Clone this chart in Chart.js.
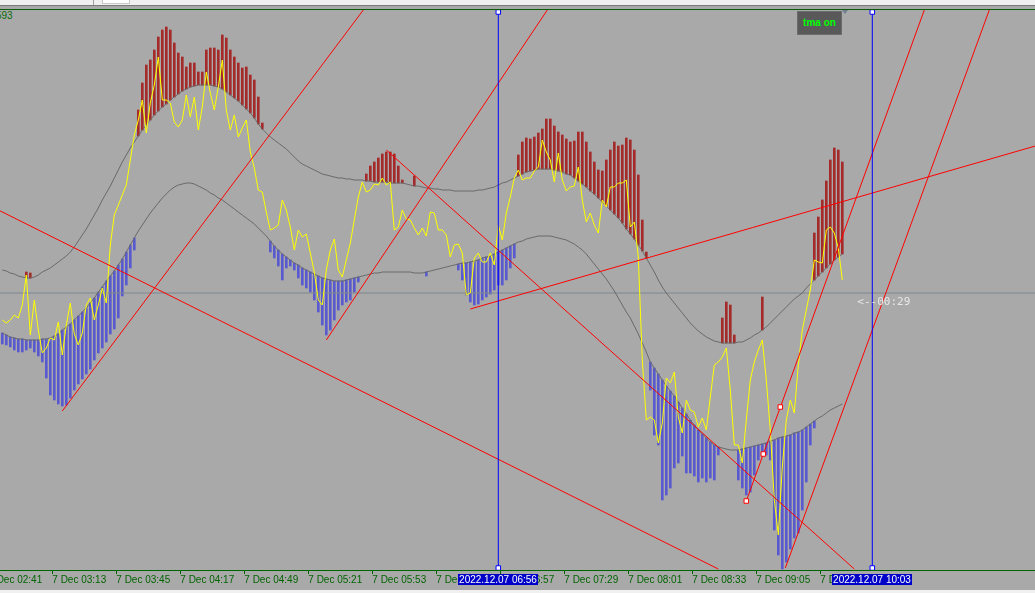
<!DOCTYPE html>
<html>
<head>
<meta charset="utf-8">
<script src="https://cdn.jsdelivr.net/npm/chart.js@4.4.0/dist/chart.umd.min.js"></script>
<style>
  html, body { margin: 0; padding: 0; width: 1035px; height: 593px; overflow: hidden; background: #a9a9a9; position: relative; }
  #chart { position: absolute; left: -12px; top: 10px; }
  .strip { position: absolute; left: 0; width: 1035px; }
  #sym { position: absolute; left: -4px; top: 10px; font: 10px "Liberation Sans", Arial, sans-serif; color: #0a6a0a; }
  #tma { position: absolute; left: 797px; top: 11px; width: 43px; height: 22px; background: #595959; border: 1px solid #6c6c6c;
         color: #00ff00; font: bold 10px "Liberation Sans", Arial, sans-serif; text-align: center; line-height: 22px; }
  #tri { position: absolute; left: 842px; top: 10px; width: 0; height: 0; border-left: 3px solid transparent; border-right: 3px solid transparent; border-top: 4px solid #6f7f8f; }
</style>
</head>
<body>
<div class="strip" style="top:0;height:5px;background:#f0f0f0"></div>
<div class="strip" style="top:5px;height:1px;background:#7a7a7a"></div>
<div class="strip" style="top:9px;height:1px;background:#0b5d0b"></div>
<div style="position:absolute;left:93px;top:0;width:1px;height:5px;background:#a0a0a0"></div>
<div style="position:absolute;left:102px;top:0;width:26px;height:3px;background:#fff;border:1px solid #c8c8c8;border-top:none"></div>
<div id="sym">593</div>
<canvas id="chart" width="1047" height="583"></canvas>
<div id="tma">tma on</div>
<div id="tri"></div>
<div class="strip" style="top:590px;height:3px;background:#f0f0f0"></div>
<script>
const _ = null;

// M1 chart, one sample every 2 minutes starting 02:48 (minutes since midnight)
const firstMinute = 168;
const stepMinutes = 2;

// TMA upper band
const upperBand = [
  330,329,327,326,324,323,322,322,323,325,
  328,330,332,335,338,341,344,348,353,359,
  365,371,378,385,392,400,407,414,422,430,
  438,445,452,458,464,470,475,480,485,489,
  493,496,500,503,506,509,511,513,514,515,
  515,515,515,514,513,511,508,505,502,499,
  495,491,487,482,476,471,467,463,460,457,
  454,451,447,443,439,436,434,432,430,428,
  426,425,424,423,422,422,421,421,420,420,
  420,419,419,418,418,418,418,417,417,417,
  417,416,415,414,414,413,412,412,411,411,
  410,410,410,409,409,409,409,409,409,410,
  410,411,412,413,415,417,418,420,422,424,
  426,428,429,430,431,431,431,431,430,429,
  428,426,425,422,419,416,413,409,406,402,
  398,394,390,386,382,377,371,366,361,355,
  349,342,335,328,320,313,307,302,297,292,
  287,282,277,273,269,266,263,261,259,258,
  257,257,257,257,258,258,260,262,265,267,
  270,273,277,281,285,289,293,297,301,304,
  307,312,316,320,324,328,332,336,340,343,346
];

// TMA lower band
const lowerBand = [
  267,265,263,262,261,261,260,260,260,260,
  261,261,262,264,266,270,273,276,280,284,
  288,292,297,302,308,313,319,324,329,335,
  341,348,355,362,369,375,381,387,392,397,
  402,406,410,413,415,416,417,417,416,414,
  412,410,407,405,402,400,397,394,391,388,
  385,382,379,376,372,368,364,359,354,350,
  346,343,340,337,335,332,330,328,326,324,
  322,321,320,319,319,319,320,321,322,323,
  324,325,326,327,327,328,328,328,328,328,
  328,328,328,327,327,327,328,329,330,331,
  332,333,334,335,336,337,337,338,339,340,
  342,343,344,346,348,350,352,354,356,358,
  359,361,362,363,364,364,364,364,363,362,
  361,360,358,356,353,350,346,341,336,331,
  326,321,315,309,302,295,288,282,274,266,
  257,248,238,232,226,220,214,209,204,198,
  192,186,180,175,170,166,162,158,155,153,
  152,151,150,150,150,151,152,153,154,155,
  156,157,159,160,162,163,164,165,167,168,
  170,173,176,179,182,184,187,190,192,194,196
];

// price (yellow)
const price = [
  280,277,280,285,282,295,325,265,300,270,
  247,252,262,260,278,245,275,297,266,255,
  267,295,302,280,295,312,297,355,385,395,
  405,415,440,465,480,500,467,497,515,543,
  500,500,497,478,473,480,505,483,503,470,
  493,528,507,490,513,540,490,470,485,463,
  472,480,448,432,410,408,388,370,372,375,
  400,390,373,350,370,363,366,347,328,300,
  295,330,350,361,330,323,340,357,380,403,
  418,408,410,416,415,422,415,418,370,373,
  390,381,380,372,365,372,364,388,387,370,
  370,365,343,355,356,347,305,307,342,347,
  338,338,347,335,375,360,387,403,422,430,
  420,422,422,429,433,460,448,440,418,447,
  420,409,413,414,433,400,378,387,375,367,
  400,393,413,413,417,417,420,373,378,343,
  240,180,183,180,157,177,222,217,228,183,
  167,200,190,188,173,182,170,203,235,238,
  243,252,210,155,155,137,180,220,238,250,
  260,220,170,100,65,133,180,200,187,235,
  270,290,310,340,338,337,370,373,367,352,320
];

// highs above the upper band (red histogram)
const aboveBand = [
  _,_,_,_,_,_,328,327,_,_,
  _,_,_,_,_,_,_,_,_,_,
  _,_,_,_,_,_,_,_,_,_,
  _,_,_,_,490,517,535,540,550,563,
  570,573,570,557,547,543,533,537,537,528,
  528,550,552,552,550,565,562,550,543,537,
  532,533,525,520,503,477,_,_,_,_,
  _,_,_,_,_,_,_,_,_,_,
  _,_,_,_,_,_,_,_,_,_,
  _,426,434,438,442,446,448,448,446,434,
  420,_,_,424,_,_,_,_,_,_,
  _,_,_,_,_,_,_,_,_,_,
  _,_,_,_,_,_,_,_,_,445,
  458,462,461,463,467,471,481,481,474,468,
  465,461,458,459,468,468,458,448,438,430,
  429,440,450,458,454,455,462,460,450,425,
  380,348,_,_,_,_,_,_,_,_,
  _,_,_,_,_,_,_,_,_,_,
  282,298,295,265,_,_,_,_,_,_,
  303,_,_,_,_,_,_,_,_,_,
  _,_,_,367,383,400,419,440,452,450,438
];

// lows below the lower band (blue histogram)
const belowBand = [
  256,255,253,250,248,248,250,252,248,244,
  238,222,205,200,196,194,195,202,210,216,
  221,226,231,240,247,252,258,266,271,282,
  304,315,332,350,_,_,_,_,_,_,
  _,_,_,_,_,_,_,_,_,_,
  _,_,_,_,_,_,_,_,_,_,
  _,_,_,_,_,_,_,348,342,334,
  320,332,334,330,322,315,312,308,300,288,
  275,265,270,280,290,295,298,300,308,318,
  _,_,_,_,_,_,_,_,_,_,
  _,_,_,_,_,_,324,_,_,_,
  _,_,_,_,330,320,305,298,295,296,
  300,303,306,310,315,315,320,332,342,_,
  _,_,_,_,_,_,_,_,_,_,
  _,_,_,_,_,_,_,_,_,_,
  _,_,_,_,_,_,_,_,_,_,
  _,_,210,165,155,100,105,112,132,137,
  144,127,127,124,118,122,118,122,120,145,
  _,_,_,_,120,112,105,108,125,140,
  144,145,140,70,45,31,38,51,62,67,
  90,118,155,172,_,_,_,_,_,_,_
];

// time axis
const tickTimes = [161, 193, 225, 257, 289, 321, 353, 385, 417, 449, 481, 513, 545, 577];
const tickLabels = ['7 Dec 02:41', '7 Dec 03:13', '7 Dec 03:45', '7 Dec 04:17', '7 Dec 04:49', '7 Dec 05:21', '7 Dec 05:53',
                    '7 Dec 06:25', '7 Dec 06:57', '7 Dec 07:29', '7 Dec 08:01', '7 Dec 08:33', '7 Dec 09:05', '7 Dec 09:37'];

// trend lines [t1, v1, t2, v2]
const trendLines = [
  [161, 395, 526, 31],
  [198, 189, 348.5, 590],
  [330, 260, 440.5, 590],
  [360, 450, 594, 31],
  [402, 291, 684.5, 454],
  [540, 99, 629, 590],
  [559.5, 32, 661.5, 590]
];
const anchorTimes = [540, 548.5, 557];
const anchorValues = [99, 146, 193];

// vertical lines
const vLineTimes = [416, 603];
const vLineLabels = ['2022.12.07 06:56', '2022.12.07 10:03'];

const bidPrice = 307;
const countdownText = '<--00:29';

const times = price.map((p, i) => firstMinute + i * stepMinutes);
const axisGreen = '#006400';

function series(arr) {
  return arr.map((v, i) => ({ x: times[i], y: v }));
}
function histogram(tips, band) {
  const out = [];
  tips.forEach((v, i) => {
    if (v !== null) out.push({ x: times[i], y: [band[i], v] });
  });
  return out;
}

const datasets = [
  { type: 'bar', data: histogram(aboveBand, upperBand), backgroundColor: '#a52a2a', barThickness: 2, grouped: false, borderWidth: 0, order: 6 },
  { type: 'bar', data: histogram(belowBand, lowerBand), backgroundColor: '#5a5ad0', barThickness: 2, grouped: false, borderWidth: 0, order: 6 },
  { type: 'line', data: series(upperBand), borderColor: '#696969', borderWidth: 1, pointRadius: 0, order: 4 },
  { type: 'line', data: series(lowerBand), borderColor: '#696969', borderWidth: 1, pointRadius: 0, order: 4 },
  { type: 'line', data: [{ x: 160.85, y: bidPrice }, { x: 684.35, y: bidPrice }], borderColor: '#7d868e', borderWidth: 1, pointRadius: 0, order: 5 },
  { type: 'line', data: series(price), borderColor: '#ffff00', borderWidth: 1, pointRadius: 0, order: 3 }
];

trendLines.forEach(t => {
  datasets.push({ type: 'line', data: [{ x: t[0], y: t[1] }, { x: t[2], y: t[3] }],
    borderColor: '#ff0000', borderWidth: 1, pointRadius: 0, order: 2 });
});

vLineTimes.forEach(t => {
  datasets.push({ type: 'line', data: [{ x: t, y: 32 }, { x: t, y: 588 }],
    borderColor: '#0000ff', borderWidth: 1, pointStyle: 'rect', pointRadius: 3.2,
    pointBackgroundColor: '#ffffff', pointBorderColor: '#0000ff', pointBorderWidth: 1, order: 1 });
});

datasets.push({ type: 'line', data: anchorTimes.map((t, i) => ({ x: t, y: anchorValues[i] })), showLine: false,
  pointStyle: 'rect', pointRadius: 3.2, pointBackgroundColor: '#ffffff', pointBorderColor: '#ff0000', pointBorderWidth: 1, order: 0 });

const overlay = {
  id: 'overlay',
  afterDraw(chart) {
    const { ctx, chartArea } = chart;
    const x = chart.scales.x, y = chart.scales.y;
    ctx.save();
    // candle countdown next to the bid line
    ctx.font = '11px "DejaVu Sans Mono", monospace';
    ctx.fillStyle = '#e8e8e8';
    ctx.textAlign = 'left';
    ctx.textBaseline = 'alphabetic';
    ctx.fillText(countdownText, x.getPixelForValue(times[times.length - 1]) + 15, y.getPixelForValue(bidPrice) + 12);
    // date boxes of the vertical lines
    ctx.font = '10px "Liberation Sans", Arial, sans-serif';
    ctx.textAlign = 'center';
    ctx.textBaseline = 'middle';
    vLineTimes.forEach((t, i) => {
      const px = Math.round(x.getPixelForValue(t));
      ctx.fillStyle = '#0000c8';
      ctx.fillRect(px - 40, chartArea.bottom + 4, 80, 11);
      ctx.fillStyle = '#ffffff';
      ctx.fillText(vLineLabels[i], px, chartArea.bottom + 10);
    });
    ctx.restore();
  }
};

new Chart(document.getElementById('chart'), {
  type: 'bar',
  data: { datasets: datasets },
  options: {
    responsive: false,
    animation: false,
    devicePixelRatio: 1,
    layout: { padding: 0, autoPadding: false },
    plugins: { legend: { display: false }, tooltip: { enabled: false } },
    scales: {
      x: {
        type: 'linear',
        min: 160.85,
        max: 684.35,
        offset: false,
        afterBuildTicks: s => { s.ticks = tickTimes.map(v => ({ value: v })); },
        afterFit: s => { s.height = 23; },
        grid: { display: true, drawOnChartArea: false, drawTicks: true, tickLength: 4, color: axisGreen, offset: false },
        border: { display: true, color: axisGreen, width: 1 },
        ticks: {
          autoSkip: false, maxRotation: 0, minRotation: 0, align: 'start', padding: 0,
          color: axisGreen, font: { family: 'Liberation Sans', size: 10 },
          callback: (v, i) => tickLabels[i]
        }
      },
      y: { display: false, min: 30, max: 590 }
    }
  },
  plugins: [overlay]
});
</script>
</body>
</html>
